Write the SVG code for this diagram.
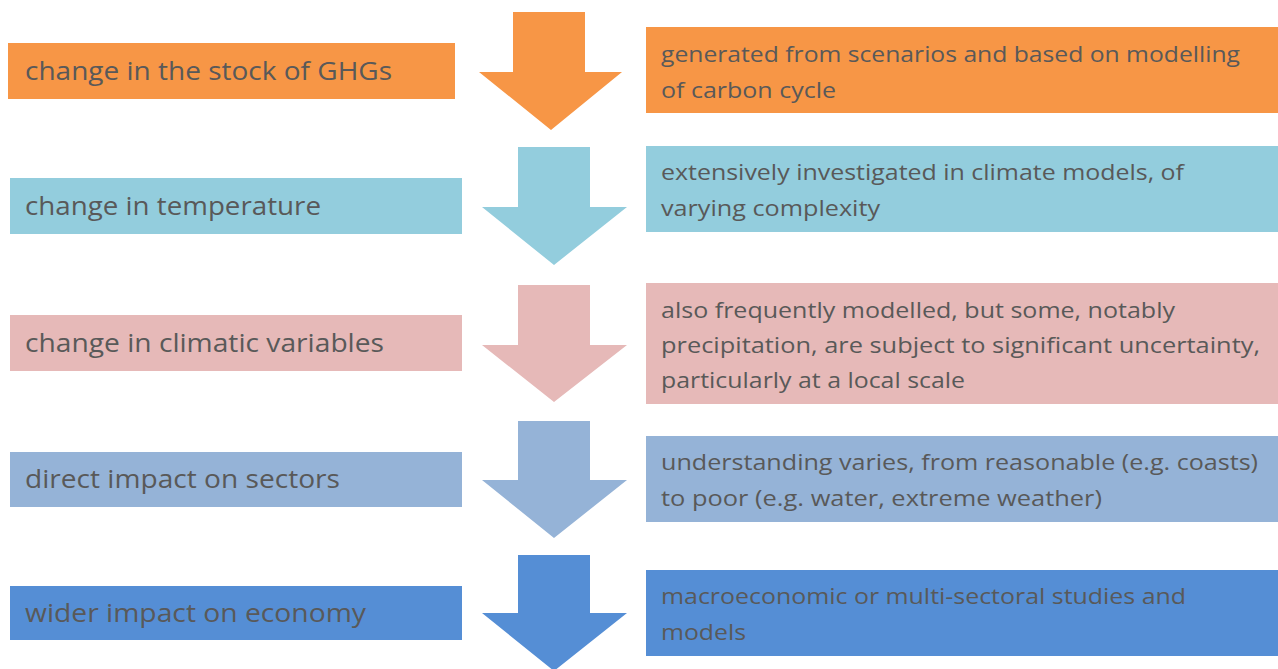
<svg xmlns="http://www.w3.org/2000/svg" width="1278" height="669" viewBox="0 0 1278 669">
<style>
.lt{font-family:"Open Sans","Liberation Sans",sans-serif;font-size:25px;fill:#595959}
.rt{font-family:"Open Sans","Liberation Sans",sans-serif;font-size:22px;fill:#595959}
.c1{fill:#F79646}.c2{fill:#93CDDD}.c3{fill:#E6B9B8}.c4{fill:#95B3D7}.c5{fill:#558ED5}
</style>
<rect width="1278" height="669" fill="#fff"/>
<g id="connectors">
<polygon class="c1" points="513,12 585,12 585,72 622,72 551,130 479,72 513,72"/>
<polygon class="c2" points="518,147 590,147 590,207 627,207 554,265 482,207 518,207"/>
<polygon class="c3" points="518,285 590,285 590,345 627,345 554,402 482,345 518,345"/>
<polygon class="c4" points="518,421 590,421 590,480 627,480 554,538 482,480 518,480"/>
<polygon class="c5" points="518,555 590,555 590,613 627,613 554,671 482,613 518,613"/>
</g>
<g id="n1">
<rect class="c1" x="8" y="43" width="447" height="56"/>
<text class="lt" x="25" y="80" textLength="367" lengthAdjust="spacingAndGlyphs">change in the stock of GHGs</text>
</g>
<g id="d1">
<rect class="c1" x="646" y="27" width="632" height="86"/>
<text class="rt" x="661" y="62" textLength="579" lengthAdjust="spacingAndGlyphs">generated from scenarios and based on modelling</text>
<text class="rt" x="661" y="98" textLength="175" lengthAdjust="spacingAndGlyphs">of carbon cycle</text>
</g>
<g id="n2">
<rect class="c2" x="10" y="178" width="452" height="56"/>
<text class="lt" x="25" y="215" textLength="296" lengthAdjust="spacingAndGlyphs">change in temperature</text>
</g>
<g id="d2">
<rect class="c2" x="646" y="146" width="632" height="86"/>
<text class="rt" x="661" y="180" textLength="523" lengthAdjust="spacingAndGlyphs">extensively investigated in climate models, of</text>
<text class="rt" x="661" y="216" textLength="219" lengthAdjust="spacingAndGlyphs">varying complexity</text>
</g>
<g id="n3">
<rect class="c3" x="10" y="315" width="452" height="56"/>
<text class="lt" x="25" y="352" textLength="359" lengthAdjust="spacingAndGlyphs">change in climatic variables</text>
</g>
<g id="d3">
<rect class="c3" x="646" y="283" width="632" height="121"/>
<text class="rt" x="661" y="318" textLength="514" lengthAdjust="spacingAndGlyphs">also frequently modelled, but some, notably</text>
<text class="rt" x="661" y="353" textLength="599" lengthAdjust="spacingAndGlyphs">precipitation, are subject to significant uncertainty,</text>
<text class="rt" x="661" y="388" textLength="304" lengthAdjust="spacingAndGlyphs">particularly at a local scale</text>
</g>
<g id="n4">
<rect class="c4" x="10" y="452" width="452" height="55"/>
<text class="lt" x="25" y="488" textLength="315" lengthAdjust="spacingAndGlyphs">direct impact on sectors</text>
</g>
<g id="d4">
<rect class="c4" x="646" y="436" width="632" height="86"/>
<text class="rt" x="661" y="470" textLength="597" lengthAdjust="spacingAndGlyphs">understanding varies, from reasonable (e.g. coasts)</text>
<text class="rt" x="661" y="506" textLength="441" lengthAdjust="spacingAndGlyphs">to poor (e.g. water, extreme weather)</text>
</g>
<g id="n5">
<rect class="c5" x="10" y="586" width="452" height="54"/>
<text class="lt" x="25" y="622" textLength="341" lengthAdjust="spacingAndGlyphs">wider impact on economy</text>
</g>
<g id="d5">
<rect class="c5" x="646" y="570" width="632" height="86"/>
<text class="rt" x="661" y="604" textLength="525" lengthAdjust="spacingAndGlyphs">macroeconomic or multi-sectoral studies and</text>
<text class="rt" x="661" y="640" textLength="85" lengthAdjust="spacingAndGlyphs">models</text>
</g>
</svg>
